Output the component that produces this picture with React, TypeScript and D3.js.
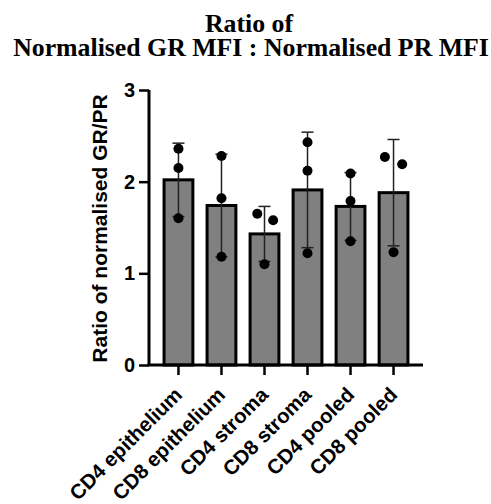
import React, { useEffect, useRef } from 'react';
import * as d3 from 'd3';

const groups = ['CD4 epithelium', 'CD8 epithelium', 'CD4 stroma', 'CD8 stroma', 'CD4 pooled', 'CD8 pooled'];
const means = [2.02, 1.74, 1.43, 1.91, 1.73, 1.88];
const sds = [0.4, 0.56, 0.3, 0.63, 0.37, 0.58];
const points = [
  [2.36, 2.15, 1.6],
  [2.28, 1.82, 1.18],
  [1.65, 1.58, 1.1],
  [2.43, 2.12, 1.22],
  [2.09, 1.79, 1.35],
  [2.27, 2.19, 1.23],
];
// horizontal spread of overlapping dots, as a fraction of bar width
const spread = [
  [0, 0, 0],
  [0, 0, 0],
  [-0.25, 0.3, 0],
  [0, 0, 0],
  [0, 0, 0],
  [-0.3, 0.3, 0],
];
const yTicks = [0, 1, 2, 3];

const App = () => {
  const ref = useRef<SVGSVGElement>(null);

  useEffect(() => {
    const width = 491;
    const height = 504;
    const svg = d3.select(ref.current);
    svg.selectAll('*').remove();
    svg.attr('width', width).attr('height', height);

    const x = d3.scaleBand().domain(groups).range([149, 423]).paddingInner(0.33).paddingOuter(0.35);
    const y = d3.scaleLinear().domain([0, 3]).range([365, 90]);
    const bw = x.bandwidth();
    const sans = 'Arial, "Liberation Sans", sans-serif';

    // title
    const title = svg.append('text')
      .attr('text-anchor', 'middle')
      .attr('font-family', '"Liberation Serif", "Times New Roman", serif')
      .attr('font-weight', 'bold')
      .attr('font-size', 25.8);
    title.append('tspan').attr('x', 249).attr('y', 32).text('Ratio of');
    title.append('tspan').attr('x', 251).attr('y', 56).text('Normalised GR MFI : Normalised PR MFI');

    // bars
    svg.append('g').selectAll('rect')
      .data(groups)
      .enter().append('rect')
      .attr('x', d => x(d)!)
      .attr('y', (d, i) => y(means[i]))
      .attr('width', bw)
      .attr('height', (d, i) => y(0) - y(means[i]))
      .attr('fill', '#808080')
      .attr('stroke', '#000')
      .attr('stroke-width', 3);

    // error bars
    const err = svg.append('g').attr('stroke', '#222').attr('stroke-width', 1.5);
    groups.forEach((g, i) => {
      const cx = x(g)! + bw / 2;
      const hi = y(means[i] + sds[i]);
      const lo = y(means[i] - sds[i]);
      err.append('line').attr('x1', cx).attr('x2', cx).attr('y1', hi).attr('y2', lo);
      err.append('line').attr('x1', cx - 6).attr('x2', cx + 6).attr('y1', hi).attr('y2', hi);
      err.append('line').attr('x1', cx - 6).attr('x2', cx + 6).attr('y1', lo).attr('y2', lo);
    });

    // dots
    const dots = svg.append('g');
    groups.forEach((g, i) => {
      points[i].forEach((v, j) => {
        dots.append('circle')
          .attr('cx', x(g)! + bw / 2 + spread[i][j] * bw)
          .attr('cy', y(v))
          .attr('r', 5)
          .attr('fill', '#000');
      });
    });

    // y axis
    const yAxis = svg.append('g')
      .attr('transform', 'translate(149,0)')
      .call(d3.axisLeft(y).tickValues(yTicks).tickFormat(d3.format('d')).tickSize(10).tickPadding(4));
    yAxis.select('.domain').attr('stroke', '#000').attr('stroke-width', 3).attr('d', `M0,${y(3)}V${y(0)}`);
    yAxis.selectAll('.tick line').attr('stroke', '#000').attr('stroke-width', 2.5);
    yAxis.selectAll('.tick text')
      .attr('font-family', sans)
      .attr('font-weight', 'bold')
      .attr('font-size', 20)
      .attr('fill', '#000');

    // x axis
    const xAxis = svg.append('g')
      .attr('transform', `translate(0,${y(0)})`)
      .call(d3.axisBottom(x).tickSize(10).tickSizeOuter(0));
    xAxis.select('.domain').attr('stroke', '#000').attr('stroke-width', 3).attr('d', 'M147.5,0H423');
    xAxis.selectAll('.tick line').attr('stroke', '#000').attr('stroke-width', 2.5);
    xAxis.selectAll('.tick text')
      .attr('font-family', sans)
      .attr('font-weight', 'bold')
      .attr('font-size', 20.5)
      .attr('fill', '#000')
      .attr('text-anchor', 'end')
      .attr('y', 0)
      .attr('dy', null)
      .attr('transform', 'translate(5,31) rotate(-45)');

    // y label
    svg.append('text')
      .attr('transform', `translate(107,${(y(0) + y(3)) / 2 + 1}) rotate(-90)`)
      .attr('text-anchor', 'middle')
      .attr('font-family', sans)
      .attr('font-weight', 'bold')
      .attr('font-size', 21)
      .text('Ratio of normalised GR/PR');
  }, []);

  return <svg ref={ref} style={{ position: 'absolute', left: 0, top: 0 }}></svg>;
};

export default App;
